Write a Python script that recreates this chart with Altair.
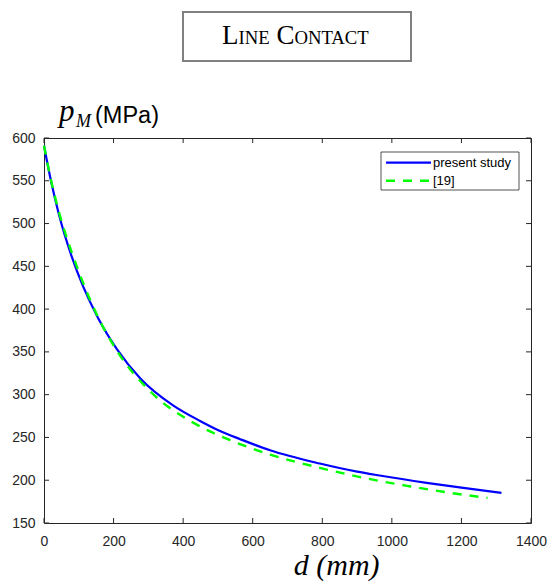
import altair as alt
import pandas as pd

# ---- data ----
series_names = ["present study", "[19]"]
series_colors = ["#0000ff", "#00ff00"]

blue_d = [0, 20, 42, 80, 113, 155, 210, 277, 371, 450, 506, 564, 650, 793, 900, 965, 1100, 1200, 1315]
blue_p = [591, 550, 512, 461, 426, 390, 353, 319, 287.5, 269, 257.5, 248, 235, 219.5, 210, 205.5, 197, 191.3, 185.2]

green_d = [0, 20, 42, 80, 113, 155, 210, 305, 439, 540, 650, 793, 928, 1050, 1167, 1275]
green_p = [591, 551, 515, 466, 430, 391, 351, 304, 265, 246, 230, 214.5, 202, 193, 185.3, 179.4]

x_ticks = [0, 200, 400, 600, 800, 1000, 1200, 1400]
y_ticks = [150, 200, 250, 300, 350, 400, 450, 500, 550, 600]

title_text = "LINE CONTACT"
x_title = "d (mm)"
y_title_main = "p"
y_title_sub = "M"
y_title_unit = "(MPa)"

W, H = 487, 385
AX = "#262626"
SANS = "Liberation Sans"
SERIF = "Liberation Serif"

xs = alt.Scale(domain=[0, 1400], nice=False, zero=False)
ys = alt.Scale(domain=[150, 600], nice=False, zero=False)

blue_df = pd.DataFrame({"d": blue_d, "p": blue_p})
green_df = pd.DataFrame({"d": green_d, "p": green_p})

x_axis = alt.Axis(values=x_ticks, title=None, ticks=False, domain=False, grid=False, format="d",
                  labelFont=SANS, labelFontSize=14, labelColor=AX, labelPadding=11,
                  labelOverlap=False, labelFlush=False)
y_axis = alt.Axis(values=y_ticks, title=None, ticks=False, domain=False, grid=False, format="d",
                  labelFont=SANS, labelFontSize=14, labelColor=AX, labelPadding=9,
                  labelOverlap=False, labelFlush=False)

blue_line = alt.Chart(blue_df).mark_line(color=series_colors[0], strokeWidth=2.2,
                                         interpolate="monotone").encode(
    x=alt.X("d:Q", scale=xs, axis=x_axis),
    y=alt.Y("p:Q", scale=ys, axis=y_axis),
)
green_line = alt.Chart(green_df).mark_line(color=series_colors[1], strokeWidth=2.4,
                                           strokeDash=[9, 8], interpolate="monotone").encode(
    x=alt.X("d:Q", scale=xs, axis=x_axis),
    y=alt.Y("p:Q", scale=ys, axis=y_axis),
)

# inward ticks (MATLAB style)
xt_df = pd.DataFrame({"v": x_ticks})
yt_df = pd.DataFrame({"v": y_ticks})
tick_style = dict(color=AX, strokeWidth=1)
xt_bottom = alt.Chart(xt_df).mark_rule(**tick_style).encode(
    x=alt.X("v:Q", scale=xs, axis=x_axis), y=alt.value(H), y2=alt.value(H - 5))
xt_top = alt.Chart(xt_df).mark_rule(**tick_style).encode(
    x=alt.X("v:Q", scale=xs, axis=x_axis), y=alt.value(0), y2=alt.value(5))
yt_left = alt.Chart(yt_df).mark_rule(**tick_style).encode(
    y=alt.Y("v:Q", scale=ys, axis=y_axis), x=alt.value(0), x2=alt.value(5))
yt_right = alt.Chart(yt_df).mark_rule(**tick_style).encode(
    y=alt.Y("v:Q", scale=ys, axis=y_axis), x=alt.value(W), x2=alt.value(W - 5))

one = alt.Data(values=[{"a": 1}])

# legend box
leg_box = alt.Chart(one).mark_rect(fill="white", stroke=AX, strokeWidth=0.8).encode(
    x=alt.value(337), x2=alt.value(475), y=alt.value(14), y2=alt.value(52))
leg_l1 = alt.Chart(one).mark_rule(color=series_colors[0], strokeWidth=2.2).encode(
    x=alt.value(342), x2=alt.value(387), y=alt.value(24.7))
leg_l2 = alt.Chart(one).mark_rule(color=series_colors[1], strokeWidth=2.4, strokeDash=[9, 8]).encode(
    x=alt.value(342), x2=alt.value(387), y=alt.value(42.7))
leg_t1 = alt.Chart(one).mark_text(text=series_names[0], font=SANS, fontSize=13, color="black",
                                  align="left", baseline="middle").encode(
    x=alt.value(389), y=alt.value(24.7))
leg_t2 = alt.Chart(one).mark_text(text=series_names[1], font=SANS, fontSize=13, color="black",
                                  align="left", baseline="middle").encode(
    x=alt.value(389), y=alt.value(42.7))

# title box with small caps text
title_box = alt.Chart(one).mark_rect(fill="white", stroke="#808080", strokeWidth=2).encode(
    x=alt.value(139), x2=alt.value(367), y=alt.value(-126), y2=alt.value(-77))
big, small = 27, 18.7
words = title_text.split(" ")
parts = []
xpos = 178.0
widths = {"L": .611, "I": .333, "N": .722, "E": .611, "C": .667, "O": .722, "T": .611, "A": .722}
for wi, w in enumerate(words):
    first, rest = w[0], w[1:]
    parts.append(alt.Chart(one).mark_text(text=first, font=SERIF, fontSize=big, color="black",
                                          align="left", baseline="alphabetic").encode(
        x=alt.value(xpos), y=alt.value(-94)))
    xpos += widths[first] * big
    parts.append(alt.Chart(one).mark_text(text=rest, font=SERIF, fontSize=small, color="black",
                                          align="left", baseline="alphabetic").encode(
        x=alt.value(xpos), y=alt.value(-94)))
    xpos += sum(widths[c] for c in rest) * small + 0.25 * big

# axis titles
yt_p = alt.Chart(one).mark_text(text=y_title_main, font=SERIF, fontSize=31, fontStyle="italic",
                                color="black", align="left", baseline="alphabetic").encode(
    x=alt.value(15), y=alt.value(-17))
yt_m = alt.Chart(one).mark_text(text=y_title_sub, font=SERIF, fontSize=18, fontStyle="italic",
                                color="black", align="left", baseline="alphabetic").encode(
    x=alt.value(32), y=alt.value(-11))
yt_u = alt.Chart(one).mark_text(text=y_title_unit, font=SANS, fontSize=23.5,
                                color="black", align="left", baseline="alphabetic").encode(
    x=alt.value(51), y=alt.value(-15))
xt_title = alt.Chart(one).mark_text(text=x_title, font=SERIF, fontSize=30, fontStyle="italic",
                                    color="black", align="center", baseline="alphabetic").encode(
    x=alt.value(292.7), y=alt.value(437))

chart = alt.layer(
    blue_line, green_line, xt_bottom, xt_top, yt_left, yt_right,
    leg_box, leg_l1, leg_l2, leg_t1, leg_t2,
    title_box, *parts, yt_p, yt_m, yt_u, xt_title,
).properties(
    width=W, height=H,
    autosize=alt.AutoSizeParams(type="none"),
    padding={"left": 44, "top": 138, "right": 21, "bottom": 60},
    background="white",
).configure_view(stroke=AX, strokeWidth=1)

chart.save("out.html", embed_options={"renderer": "svg", "actions": False})
